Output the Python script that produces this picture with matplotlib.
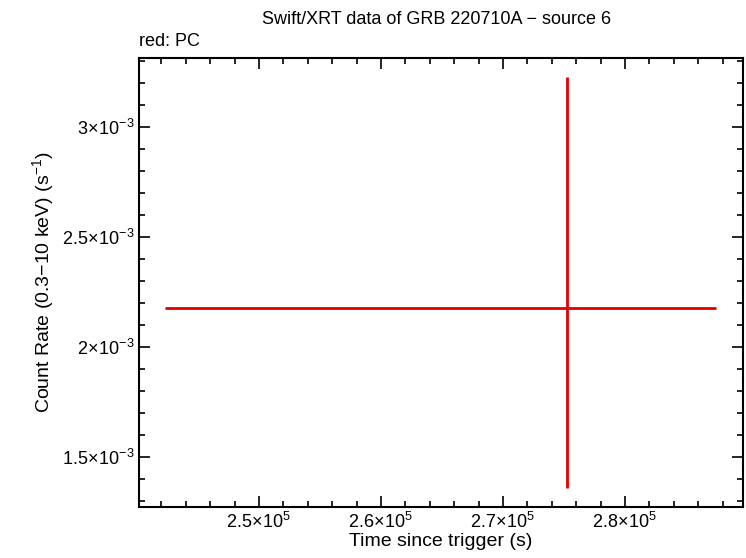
import numpy as np
import matplotlib
matplotlib.use("Agg")
import matplotlib.pyplot as plt
from matplotlib.ticker import FixedLocator, MultipleLocator, FuncFormatter

plt.rcParams['font.family'] = ['Liberation Sans', 'DejaVu Sans']
plt.rcParams['mathtext.fontset'] = 'custom'
plt.rcParams['mathtext.rm'] = 'Liberation Sans'
plt.rcParams['mathtext.it'] = 'Liberation Sans'

# PC data point
t = [275246]
t_lo = [242295]
t_hi = [287459]
rate = [2.177e-3]
rate_lo = [1.359e-3]
rate_hi = [3.227e-3]

xticks = [2.5e5, 2.6e5, 2.7e5, 2.8e5]
yticks = [1.5e-3, 2e-3, 2.5e-3, 3e-3]

fig = plt.figure(figsize=(7.46, 5.58), dpi=100)
ax = fig.add_axes([139/746, 1-507/558, (743-139)/746, (507-58)/558])

t = np.array(t); rate = np.array(rate)
xerr = [t - np.array(t_lo), np.array(t_hi) - t]
yerr = [rate - np.array(rate_lo), np.array(rate_hi) - rate]
ax.errorbar(t, rate, xerr=xerr, yerr=yerr, fmt='none', ecolor='#e00000', elinewidth=2, capsize=0)

ax.set_xlim(240164, 289672)
ax.set_ylim(1.2727e-3, 3.3136e-3)

def sci(v, pos):
    m, e = f"{v:.1e}".split("e")
    m = m.rstrip("0").rstrip(".")
    return rf"{m}$\!\times\!$10$^{{{int(e)}}}$".replace("-", "\u2212")

ax.xaxis.set_major_locator(FixedLocator(xticks))
ax.yaxis.set_major_locator(FixedLocator(yticks))
ax.xaxis.set_minor_locator(MultipleLocator(2000))
ax.yaxis.set_minor_locator(MultipleLocator(1e-4))
ax.xaxis.set_major_formatter(FuncFormatter(sci))
ax.yaxis.set_major_formatter(FuncFormatter(sci))
ax.tick_params(which='both', direction='in', top=True, right=True, labelsize=13, width=1.2)
ax.tick_params(which='major', length=8)
ax.tick_params(which='minor', length=4)
for s in ax.spines.values():
    s.set_linewidth(1.5)

ax.set_xlabel("Time since trigger (s)", fontsize=14, labelpad=1)
ax.set_ylabel("Count Rate (0.3\u221210 keV) (s$^{\u22121}$)", fontsize=14)
fig.text(0.585, 0.98, "Swift/XRT data of GRB 220710A \u2212 source 6", ha='center', va='top', fontsize=13)
fig.text(139/746, 0.91, "red: PC", ha='left', va='bottom', fontsize=13)

fig.savefig("out.png", dpi=100)
